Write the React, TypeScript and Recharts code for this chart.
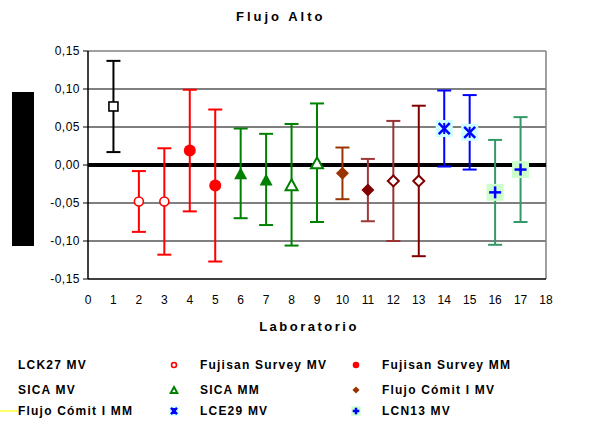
import React from 'react';
import {
  ScatterChart,
  Scatter,
  XAxis,
  YAxis,
  CartesianGrid,
  ReferenceLine,
  ErrorBar,
  Legend,
} from 'recharts';

// ---- data ----
const labs = [1, 2, 3, 4, 5, 6, 7, 8, 9, 10, 11, 12, 13, 14, 15, 16, 17];
const labMeans = [
  0.077, -0.048, -0.048, 0.019, -0.027, -0.011, -0.019, -0.026, 0.003,
  -0.011, -0.033, -0.021, -0.021, 0.048, 0.043, -0.036, -0.006,
];
const labUncertainty = [
  0.06, 0.04, 0.07, 0.08, 0.1, 0.059, 0.06, 0.08, 0.078, 0.034, 0.041, 0.079,
  0.099, 0.05, 0.049, 0.069, 0.069,
];
const seriesNames = [
  'LCK27 MV',
  'Fujisan Survey MV',
  'Fujisan Survey MM',
  'SICA MV',
  'SICA MM',
  'Flujo Cómit I MV',
  'Flujo Cómit I MM',
  'LCE29 MV',
  'LCN13 MV',
];
const labSeries = [0, 1, 1, 2, 2, 3, 3, 4, 4, 5, 5, 6, 6, 7, 7, 8, 8];
const xTicks = [0, 1, 2, 3, 4, 5, 6, 7, 8, 9, 10, 11, 12, 13, 14, 15, 16, 17, 18];
const yTicks = [-0.15, -0.1, -0.05, 0, 0.05, 0.1, 0.15];
const titleText = 'Flujo Alto';
const xAxisTitle = 'Laboratorio';

// ---- styles ----
type Kind =
  | 'square'
  | 'openCircle'
  | 'circle'
  | 'triangle'
  | 'openTriangle'
  | 'diamond'
  | 'openDiamond'
  | 'star'
  | 'plus';

const labStyles: { kind: Kind; color: string; bar: string }[] = [
  { kind: 'square', color: '#000000', bar: '#000000' },
  { kind: 'openCircle', color: '#FF0000', bar: '#FF0000' },
  { kind: 'openCircle', color: '#FF0000', bar: '#FF0000' },
  { kind: 'circle', color: '#FF0000', bar: '#FF0000' },
  { kind: 'circle', color: '#FF0000', bar: '#FF0000' },
  { kind: 'triangle', color: '#008000', bar: '#008000' },
  { kind: 'triangle', color: '#008000', bar: '#008000' },
  { kind: 'openTriangle', color: '#008000', bar: '#008000' },
  { kind: 'openTriangle', color: '#008000', bar: '#008000' },
  { kind: 'diamond', color: '#993300', bar: '#993300' },
  { kind: 'diamond', color: '#800000', bar: '#A03838' },
  { kind: 'openDiamond', color: '#800000', bar: '#993333' },
  { kind: 'openDiamond', color: '#800000', bar: '#800000' },
  { kind: 'star', color: '#0000FF', bar: '#0000FF' },
  { kind: 'star', color: '#0000FF', bar: '#0000FF' },
  { kind: 'plus', color: '#0000FF', bar: '#339966' },
  { kind: 'plus', color: '#0000FF', bar: '#339966' },
];

const FONT = '"Liberation Sans", Arial, sans-serif';

function Marker({ kind, color, cx, cy, s = 1 }: { kind: Kind; color: string; cx: number; cy: number; s?: number }) {
  if (cx == null || cy == null || isNaN(cx) || isNaN(cy)) return null;
  switch (kind) {
    case 'square':
      return <rect x={cx - 4.5 * s} y={cy - 4.5 * s} width={9 * s} height={9 * s} fill="#fff" stroke={color} strokeWidth={1.6} />;
    case 'openCircle':
      return <circle cx={cx} cy={cy} r={4.5 * s} fill="#fff" stroke={color} strokeWidth={1.6} />;
    case 'circle':
      return <circle cx={cx} cy={cy} r={6 * s} fill={color} />;
    case 'triangle': {
      const h = 12 * s, w = 13 * s;
      return <polygon points={`${cx},${cy - h / 2} ${cx + w / 2},${cy + h / 2} ${cx - w / 2},${cy + h / 2}`} fill={color} />;
    }
    case 'openTriangle': {
      const h = 11 * s, w = 12 * s;
      return <polygon points={`${cx},${cy - h / 2} ${cx + w / 2},${cy + h / 2} ${cx - w / 2},${cy + h / 2}`} fill="#fff" stroke={color} strokeWidth={2} />;
    }
    case 'diamond': {
      const r = 6.5 * s;
      return <polygon points={`${cx},${cy - r} ${cx + r},${cy} ${cx},${cy + r} ${cx - r},${cy}`} fill={color} />;
    }
    case 'openDiamond': {
      const r = 5.5 * s;
      return <polygon points={`${cx},${cy - r} ${cx + r},${cy} ${cx},${cy + r} ${cx - r},${cy}`} fill="#fff" stroke={color} strokeWidth={2} />;
    }
    case 'star': {
      const b = 8.5 * s, r = 5.5 * s;
      return (
        <g>
          <rect x={cx - b} y={cy - b} width={2 * b} height={2 * b} fill="#CCFFFF" />
          <line x1={cx - r} y1={cy - r} x2={cx + r} y2={cy + r} stroke={color} strokeWidth={2.5} />
          <line x1={cx - r} y1={cy + r} x2={cx + r} y2={cy - r} stroke={color} strokeWidth={2.5} />
          <line x1={cx} y1={cy - r} x2={cx} y2={cy + r} stroke={color} strokeWidth={2} />
        </g>
      );
    }
    case 'plus': {
      const b = 8.5 * s, r = 6 * s;
      return (
        <g>
          <rect x={cx - b} y={cy - b} width={2 * b} height={2 * b} fill="#CCFFCC" />
          <line x1={cx - r} y1={cy} x2={cx + r} y2={cy} stroke={color} strokeWidth={2.5} />
          <line x1={cx} y1={cy - r} x2={cx} y2={cy + r} stroke={color} strokeWidth={2.5} />
        </g>
      );
    }
  }
  return null;
}

// legend layout: 3 columns x 3 rows
const legendMarkers: (Kind | 'none' | 'line')[] = [
  'none', 'openCircle', 'circle',
  'none', 'openTriangle', 'diamond',
  'line', 'star', 'plus',
];
const legendColors = ['#000', '#FF0000', '#FF0000', '#008000', '#008000', '#993300', '#800000', '#0000FF', '#0000FF'];
const legendColX = [18, 200, 382];
const legendMarkX = [0, 174, 356];
const legendRowY = [11, 36, 57];

function LegendContent() {
  return (
    <div style={{ position: 'relative', width: 606, height: 70, fontFamily: FONT }}>
      {seriesNames.map((name, i) => {
        const col = i % 3;
        const row = Math.floor(i / 3);
        const mk = legendMarkers[i];
        return (
          <React.Fragment key={name}>
            {mk === 'line' && (
              <div style={{ position: 'absolute', left: 0, top: legendRowY[row] - 1, width: 17, height: 2, background: '#FFFF66' }} />
            )}
            {mk !== 'none' && mk !== 'line' && (
              <svg style={{ position: 'absolute', left: legendMarkX[col] - 10, top: legendRowY[row] - 10 }} width={20} height={20}>
                <Marker kind={mk as Kind} color={legendColors[i]} cx={10} cy={10} s={0.55} />
              </svg>
            )}
            <div
              style={{
                position: 'absolute',
                left: legendColX[col],
                top: legendRowY[row] - 8,
                fontSize: 12,
                fontWeight: 'bold',
                letterSpacing: 1.2,
                lineHeight: '16px',
                whiteSpace: 'nowrap',
                color: '#000',
              }}
            >
              {name}
            </div>
          </React.Fragment>
        );
      })}
    </div>
  );
}

const fmt = (v: number) => v.toFixed(2).replace('.', ',');

export default function App() {
  return (
    <div style={{ position: 'absolute', left: 0, top: 0, width: 606, height: 421, background: '#fff', fontFamily: FONT }}>
      <div
        style={{
          position: 'absolute',
          left: 236,
          top: 9,
          fontSize: 13,
          fontWeight: 'bold',
          letterSpacing: 3,
          whiteSpace: 'nowrap',
          color: '#000',
        }}
      >
        {titleText}
      </div>
      <div style={{ position: 'absolute', left: 12, top: 92, width: 22, height: 154, background: '#000' }} />
      <ScatterChart width={606} height={421} margin={{ top: 51, right: 60, left: 28, bottom: 82 }}>
        <CartesianGrid vertical={false} horizontalValues={[-0.1, -0.05, 0.05, 0.1]} stroke="#000" strokeWidth={1} />
        <XAxis
          type="number"
          dataKey="lab"
          domain={[0, 18]}
          ticks={xTicks}
          interval={0}
          allowDataOverflow
          tickLine={false}
          tickMargin={10}
          height={60}
          axisLine={{ stroke: '#000', strokeWidth: 1.5 }}
          tick={{ fontSize: 12, fill: '#000' }}
          label={{ value: xAxisTitle, position: 'insideBottom', offset: 8, dx: -8, style: { fontSize: 13, fontWeight: 'bold', letterSpacing: 2.5, fill: '#000' } }}
        />
        <YAxis
          type="number"
          dataKey="value"
          domain={[-0.15, 0.15]}
          ticks={yTicks}
          interval={0}
          allowDataOverflow
          width={60}
          tickSize={5}
          tickMargin={3}
          tickFormatter={fmt}
          axisLine={{ stroke: '#000', strokeWidth: 1.5 }}
          tickLine={{ stroke: '#000' }}
          tick={{ fontSize: 12, fill: '#000', letterSpacing: 0.5 }}
        />
        <ReferenceLine y={0.15} stroke="#808080" strokeWidth={1.5} />
        <ReferenceLine x={18} stroke="#808080" strokeWidth={1.5} />
        <ReferenceLine y={0} stroke="#000" strokeWidth={4} />
        {labs.map((lab, i) => {
          const st = labStyles[i];
          return (
            <Scatter
              key={lab}
              name={seriesNames[labSeries[i]]}
              data={[{ lab, value: labMeans[i], err: labUncertainty[i] }]}
              isAnimationActive={false}
              shape={(p: any) => <Marker kind={st.kind} color={st.color} cx={p.cx} cy={p.cy} />}
            >
              <ErrorBar dataKey="err" direction="y" width={7} stroke={st.bar} strokeWidth={2} />
            </Scatter>
          );
        })}
        <Legend
          layout="vertical"
          align="center"
          verticalAlign="middle"
          wrapperStyle={{ position: 'absolute', left: 0, top: 354, width: 606, height: 70 }}
          content={() => <LegendContent />}
        />
      </ScatterChart>
    </div>
  );
}
